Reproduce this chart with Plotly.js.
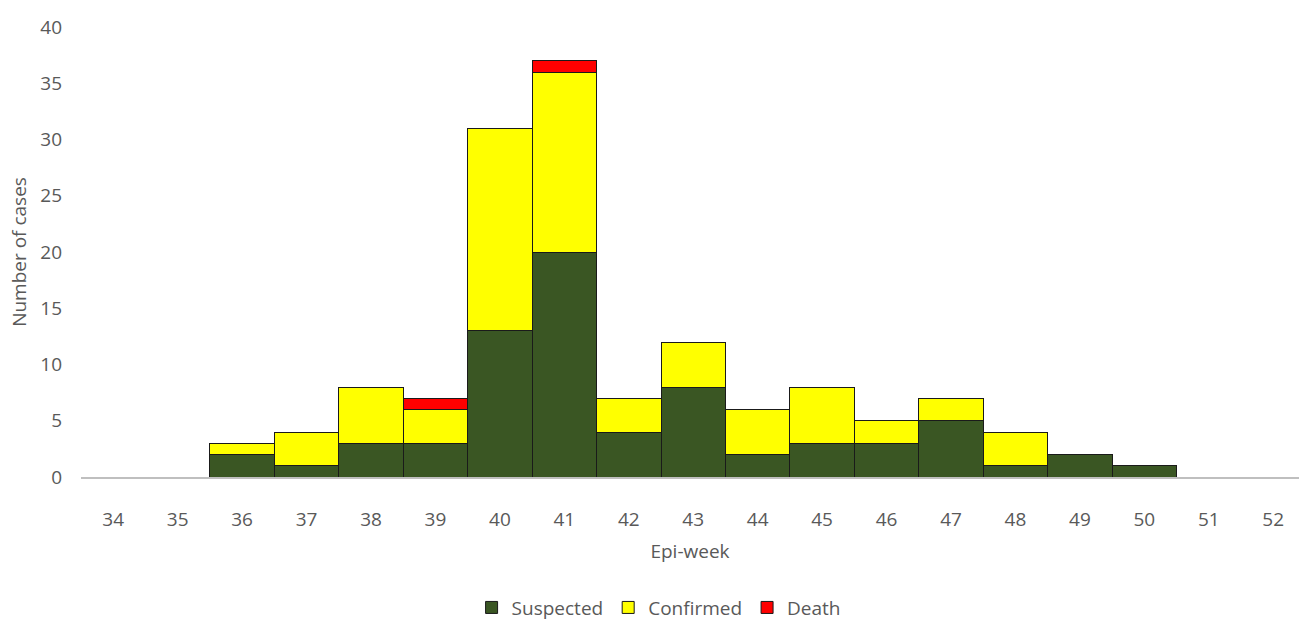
<!DOCTYPE html>
<html>
<head>
<meta charset="utf-8">
<script src="https://cdn.plot.ly/plotly-3.0.1.min.js"></script>
<style>html,body{margin:0;padding:0;background:#fff;}#chart{width:1299px;height:620px;}</style>
</head>
<body>
<div id="chart"></div>
<script>
const weeks = ['34','35','36','37','38','39','40','41','42','43','44','45','46','47','48','49','50','51','52'];
const suspected = [0,0,2,1,3,3,13,20,4,8,2,3,3,5,1,2,1,0,0];
const confirmed = [0,0,1,3,5,3,18,16,3,4,4,5,2,2,3,0,0,0,0];
const death     = [0,0,0,0,0,1,0,1,0,0,0,0,0,0,0,0,0,0,0];
const yTicks = [0,5,10,15,20,25,30,35,40];

const line = {color:'#1a1a1a', width:1};
const traces = [
  {type:'bar', name:'Suspected', x:weeks, y:suspected, marker:{color:'#3A5623', line:line}},
  {type:'bar', name:'Confirmed', x:weeks, y:confirmed, marker:{color:'#FFFF00', line:line}},
  {type:'bar', name:'Death', x:weeks, y:death, marker:{color:'#FF0000', line:line}}
];
const font = {family:'Open Sans, sans-serif', color:'#595959', size:19};
const layout = {
  width:1299, height:620,
  margin:{l:81, r:0, t:27, b:143, autoexpand:false},
  barmode:'stack', bargap:0,
  paper_bgcolor:'#fff', plot_bgcolor:'#fff',
  font:font,
  showlegend:true,
  legend:{orientation:'h', x:0.507, xanchor:'center', xref:'container', y:0.02, yref:'container', yanchor:'middle', font:{size:19, color:'#595959'}, itemwidth:20, tracegroupgap:0, traceorder:'normal'},
  xaxis:{type:'category', range:[-0.5, 18.4], tickvals:weeks, ticktext:weeks, automargin:false, showgrid:false, showline:true, linecolor:'#bfbfbf', linewidth:2, ticks:'', ticklen:0, ticklabelstandoff:24, tickfont:{size:19}, title:{text:'Epi-week', font:{size:19}, standoff:14}, zeroline:false, fixedrange:true},
  yaxis:{range:[0,40], tickvals:yTicks, automargin:false, showgrid:false, showline:false, zeroline:false, ticks:'', ticklabelstandoff:18, tickfont:{size:19}, title:{text:'Number of cases', font:{size:19}, standoff:8}, fixedrange:true}
};
Plotly.newPlot('chart', traces, layout, {displayModeBar:false, staticPlot:true});
</script>
</body>
</html>
